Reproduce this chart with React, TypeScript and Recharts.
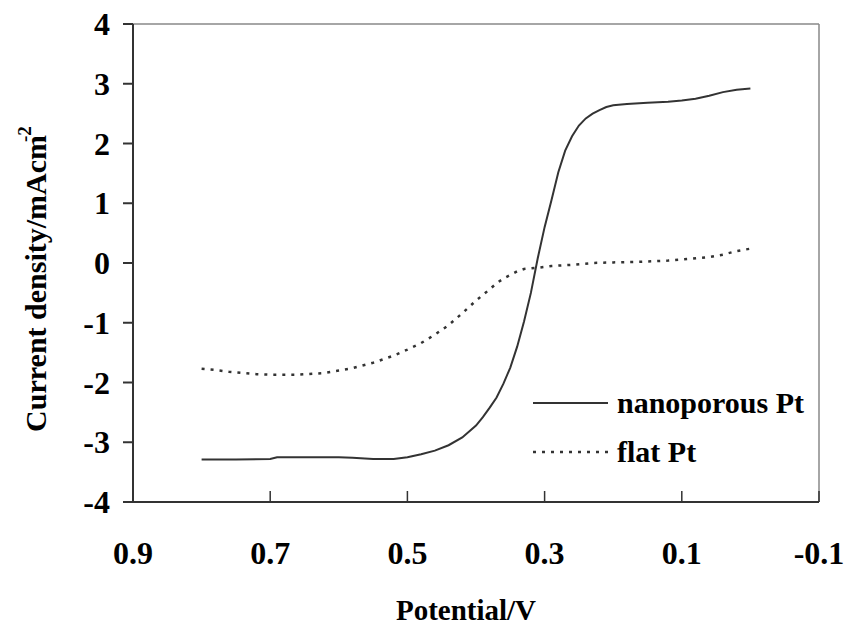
import { LineChart, Line, XAxis, YAxis, ReferenceLine } from 'recharts';

const nanoPotential = [
  0.8, 0.75, 0.7, 0.69, 0.65, 0.6, 0.58, 0.55, 0.52, 0.5, 0.48, 0.46, 0.44, 0.42, 0.4, 0.39, 0.38, 0.37,
  0.36, 0.35, 0.34, 0.33, 0.32, 0.31, 0.3, 0.29, 0.28, 0.27, 0.26, 0.25, 0.24, 0.23, 0.22, 0.21, 0.2,
  0.18, 0.15, 0.12, 0.1, 0.08, 0.06, 0.04, 0.02, 0.0,
];
const nanoCurrent = [
  -3.29, -3.29, -3.28, -3.25, -3.25, -3.25, -3.26, -3.28, -3.28, -3.25, -3.2, -3.14, -3.05, -2.92, -2.72,
  -2.58, -2.42, -2.25, -2.02, -1.75, -1.4, -0.98, -0.5, 0.08, 0.6, 1.05, 1.52, 1.88, 2.12, 2.3, 2.42, 2.5,
  2.56, 2.61, 2.64, 2.66, 2.68, 2.7, 2.72, 2.75, 2.8, 2.86, 2.9, 2.92,
];

const flatPotential = [
  0.8, 0.78, 0.76, 0.74, 0.72, 0.7, 0.66, 0.62, 0.6, 0.58, 0.55, 0.52, 0.5, 0.48, 0.46, 0.44, 0.42, 0.4,
  0.38, 0.37, 0.36, 0.35, 0.34, 0.33, 0.31, 0.29, 0.26, 0.23, 0.2, 0.16, 0.12, 0.09, 0.06, 0.04, 0.02, 0.0,
];
const flatCurrent = [
  -1.77, -1.79, -1.82, -1.84, -1.86, -1.87, -1.87, -1.84, -1.8, -1.76, -1.67, -1.55, -1.45, -1.34, -1.2,
  -1.04, -0.84, -0.63, -0.44, -0.34, -0.26, -0.2, -0.14, -0.1, -0.08, -0.05, -0.03, 0.0, 0.01, 0.02, 0.04,
  0.07, 0.1, 0.14, 0.2, 0.24,
];

const xTicks = [0.9, 0.7, 0.5, 0.3, 0.1, -0.1];
const yTicks = [-4, -3, -2, -1, 0, 1, 2, 3, 4];

const seriesNames = ['nanoporous Pt', 'flat Pt'];

const nanoData = nanoPotential.map((v, i) => ({ v, j: nanoCurrent[i] }));
const flatData = flatPotential.map((v, i) => ({ v, j: flatCurrent[i] }));

const FONT = 'Liberation Serif, Tinos, Times New Roman, DejaVu Serif, serif';
const INK = '#333';
const txt = { fontFamily: FONT, fontWeight: 700 } as const;

const XTick = (props: any) => {
  const { x, y, payload } = props;
  return (
    <g>
      <line x1={x} x2={x} y1={y} y2={y - 11} stroke={INK} strokeWidth={1.5} />
      <text x={x} y={y + 62} textAnchor="middle" style={{ ...txt, fontSize: 32 }} fill="#000">
        {String(payload.value)}
      </text>
    </g>
  );
};

const YTick = (props: any) => {
  const { x, y, payload } = props;
  return (
    <text x={x} y={y + 11} textAnchor="end" style={{ ...txt, fontSize: 32 }} fill="#000">
      {String(payload.value)}
    </text>
  );
};

const ChartLegend = () => (
  <g>
    <line x1={533} x2={608} y1={403} y2={403} stroke={INK} strokeWidth={2} />
    <text x={617} y={413} style={{ ...txt, fontSize: 30 }} fill="#000">{seriesNames[0]}</text>
    <line x1={533} x2={608} y1={452} y2={452} stroke={INK} strokeWidth={2.5} strokeDasharray="3 6" />
    <text x={617} y={462} style={{ ...txt, fontSize: 30 }} fill="#000">{seriesNames[1]}</text>
  </g>
);

const XTitle = () => (
  <text x={466} y={620} textAnchor="middle" style={{ ...txt, fontSize: 29 }} fill="#000">
    Potential/V
  </text>
);

const YTitle = () => (
  <text
    x={46}
    y={279}
    transform="rotate(-90, 46, 279)"
    textAnchor="middle"
    style={{ ...txt, fontSize: 30 }}
    fill="#000"
  >
    Current density/mAcm
    <tspan dx={-7} dy={-15} style={{ fontSize: 19 }}>-2</tspan>
  </text>
);

export default function App() {
  return (
    <div style={{ width: 850, height: 630, background: '#fff' }}>
      <style>{'body{margin:0}'}</style>
      <LineChart width={850} height={630} margin={{ top: 24, right: 31, left: 0, bottom: 0 }}>
        <XAxis
          type="number"
          dataKey="v"
          domain={[-0.1, 0.9]}
          ticks={xTicks}
          reversed
          allowDataOverflow
          height={128}
          tickSize={0}
          tickMargin={0}
          tick={<XTick />}
          stroke={INK}
          strokeWidth={2}
        />
        <YAxis
          type="number"
          domain={[-4, 4]}
          ticks={yTicks}
          width={133}
          tickSize={10}
          tickMargin={13}
          tick={<YTick />}
          stroke={INK}
          strokeWidth={2}
        />
        <ReferenceLine y={4} stroke="#888" strokeWidth={1.5} />
        <ReferenceLine x={-0.1} stroke="#888" strokeWidth={1.5} />
        <Line
          data={nanoData}
          dataKey="j"
          name={seriesNames[0]}
          type="linear"
          stroke={INK}
          strokeWidth={2}
          dot={false}
          isAnimationActive={false}
        />
        <Line
          data={flatData}
          dataKey="j"
          name={seriesNames[1]}
          type="linear"
          stroke={INK}
          strokeWidth={2.5}
          strokeDasharray="3 6"
          dot={false}
          isAnimationActive={false}
        />
        <ChartLegend />
        <XTitle />
        <YTitle />
      </LineChart>
    </div>
  );
}
